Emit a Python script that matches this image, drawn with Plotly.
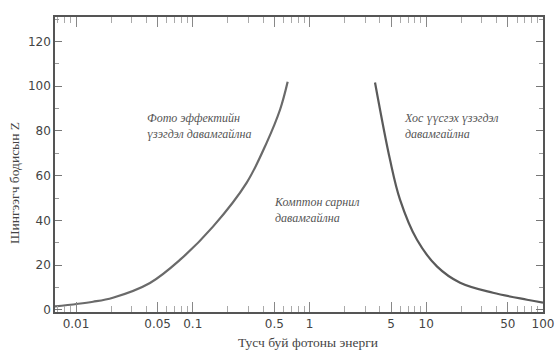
import plotly.graph_objects as go

# Photoelectric / Compton boundary (left curve)
pe_energy = [0.0066, 0.014, 0.0207, 0.043, 0.078, 0.149, 0.29, 0.43, 0.56, 0.65]
pe_z = [1.5, 3.6, 5.4, 12.0, 22.4, 37.2, 56.9, 74.8, 89.6, 102]

# Compton / pair production boundary (right curve)
pp_energy = [3.64, 4.89, 5.96, 8.33, 12.4, 19.5, 37.3, 73, 100]
pp_z = [101.7, 67.2, 49.3, 31.3, 19.3, 12.1, 7.6, 4.5, 3.2]

x_tick_vals = [0.01, 0.05, 0.1, 0.5, 1, 5, 10, 50, 100]
x_tick_text = ["0.01", "0.05", "0.1", "0.5", "1", "5", "10", "50", "100"]
y_tick_vals = [0, 20, 40, 60, 80, 100, 120]

x_title = "Тусч буй фотоны энерги"
y_title = "Шингээгч бодисын Z"
label_pe = "Фото эффектийн<br>үзэгдэл давамгайлна"
label_c = "Комптон сарнил<br>давамгайлна"
label_pp = "Хос үүсгэх үзэгдэл<br>давамгайлна"

minor_x = []
for dec in [0.001, 0.01, 0.1, 1, 10]:
    for m in range(2, 10):
        v = m * dec
        if 0.0066 <= v <= 100:
            minor_x.append(v)

fig = go.Figure()
fig.add_trace(go.Scatter(x=pe_energy, y=pe_z, mode="lines",
                         line=dict(color="#6a6a6a", width=2.2, shape="spline", smoothing=1.0),
                         showlegend=False, hoverinfo="skip"))
fig.add_trace(go.Scatter(x=pp_energy, y=pp_z, mode="lines",
                         line=dict(color="#5a5a5a", width=2.2, shape="spline", smoothing=1.0),
                         showlegend=False, hoverinfo="skip"))

ann_font = dict(family="Liberation Serif", size=12, color="#555555", style="italic")
fig.add_annotation(x=-1.41, y=82.4, xref="x", yref="y", text=label_pe,
                   showarrow=False, align="left", xanchor="left", yanchor="middle", font=ann_font)
fig.add_annotation(x=-0.32, y=44.8, xref="x", yref="y", text=label_c,
                   showarrow=False, align="left", xanchor="left", yanchor="middle", font=ann_font)
fig.add_annotation(x=0.79, y=82.4, xref="x", yref="y", text=label_pp,
                   showarrow=False, align="left", xanchor="left", yanchor="middle", font=ann_font)

title_font = dict(family="Liberation Serif", size=13.5, color="#444444")
# axis titles placed as annotations (offset from plot centre as in the original)
fig.add_annotation(x=(308 - 55) / 488, y=-0.105, xref="paper", yref="paper",
                   yanchor="middle", xanchor="center", showarrow=False,
                   text=x_title, font=title_font)
fig.add_annotation(x=-0.084, y=0.437, xref="paper", yref="paper", textangle=-90,
                   xanchor="center", yanchor="middle", showarrow=False,
                   text=y_title, font=title_font)

tick_font = dict(family="DejaVu Sans", size=12, color="#444444")

fig.update_layout(
    width=557, height=351,
    margin=dict(l=55, r=14, t=17, b=39),
    paper_bgcolor="white", plot_bgcolor="white",
    xaxis=dict(type="log", range=[-2.18, 2.0], automargin=False,
               tickmode="array", tickvals=x_tick_vals, ticktext=x_tick_text,
               ticks="inside", ticklen=10, tickwidth=1, tickcolor="#888888",
               showline=True, linecolor="#555555", linewidth=1.5, mirror="ticks",
               showgrid=False, zeroline=False, tickfont=tick_font,
               minor=dict(tickmode="array", tickvals=minor_x, ticks="inside",
                          ticklen=6, tickcolor="#aaaaaa", tickwidth=1)),
    yaxis=dict(range=[-1, 131], tickmode="array", tickvals=y_tick_vals, automargin=False,
               ticks="inside", ticklen=7, tickwidth=1, tickcolor="#777777",
               showline=True, linecolor="#555555", linewidth=1.5, mirror="ticks",
               showgrid=False, zeroline=False, tickfont=tick_font,
               minor=dict(dtick=10, ticks="inside", ticklen=4, tickcolor="#999999")),
)

fig.write_html("out.html")
